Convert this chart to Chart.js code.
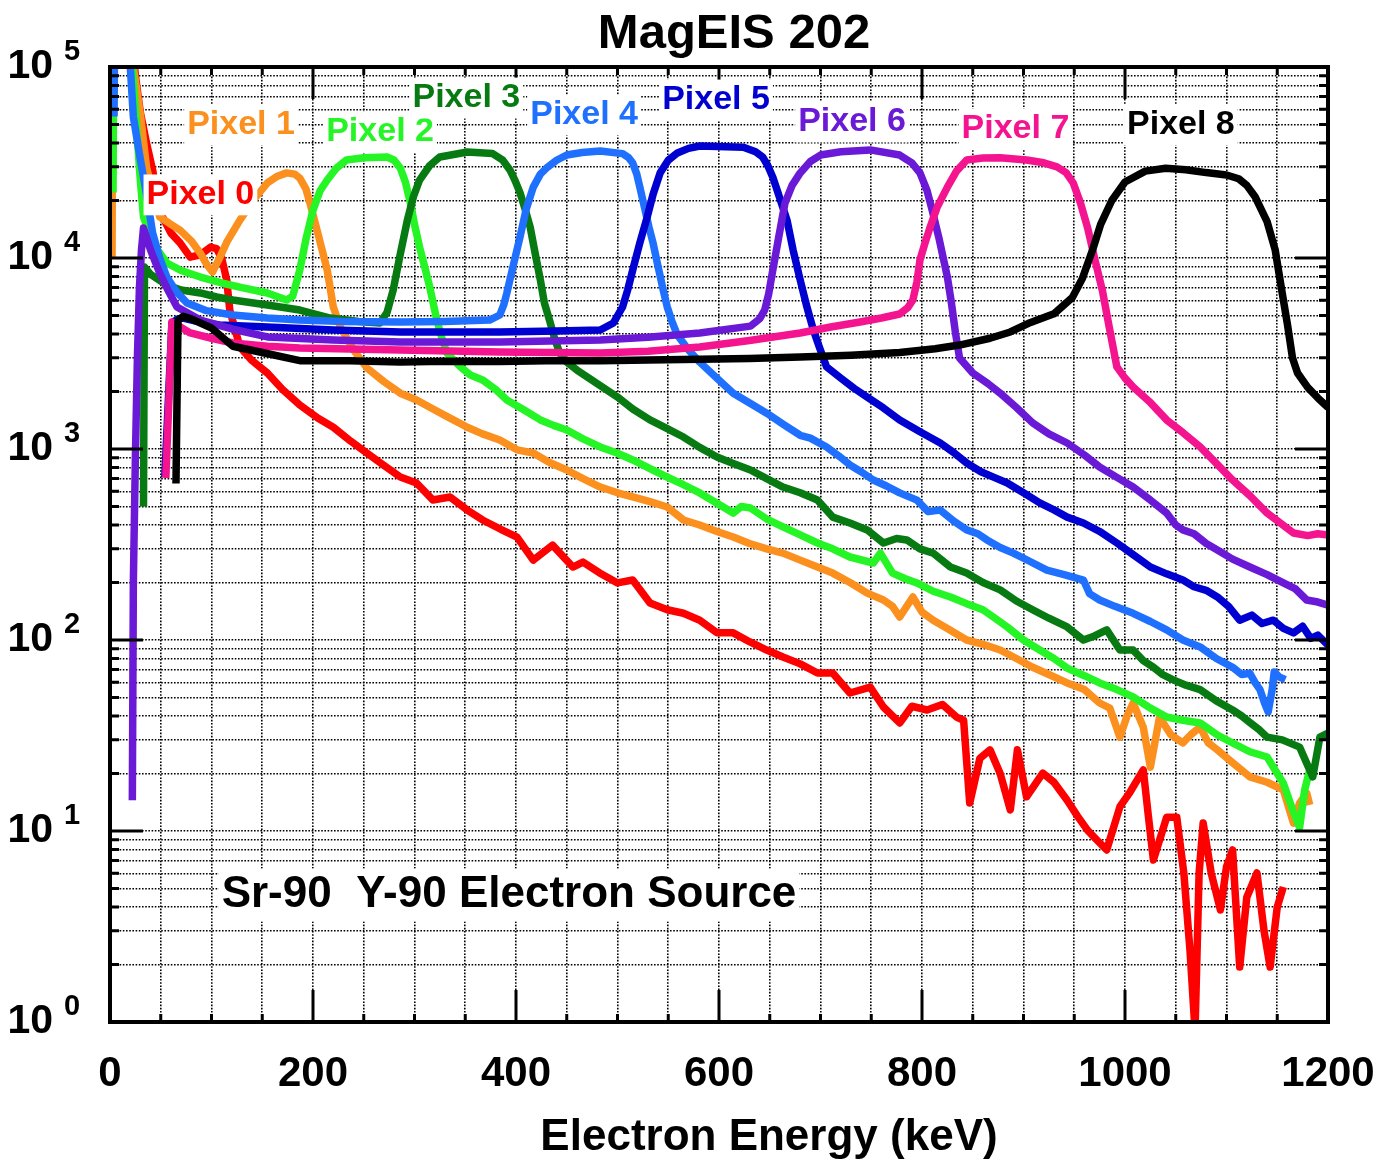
<!DOCTYPE html>
<html>
<head>
<meta charset="utf-8">
<script src="https://cdn.jsdelivr.net/npm/chart.js@4.4.1/dist/chart.umd.min.js"></script>
<style>
  body { margin: 0; background: #fff; }
</style>
</head>
<body>
<canvas id="spectra" width="1383" height="1160"></canvas>
<script>
// counts per pixel, [energy keV, counts]
var pixel0 = [[19,200000],[25,90000],[30,57400],[36,40000],[42,28900],[49,17500],[60,13500],[69,12000],[79,10100],[89,10400],[99,11400],[105,11200],[110,10000],[115,7670],[118,5340],[128,3420],[140,2900],[155,2500],[170,2050],[187,1700],[205,1450],[220,1300],[237,1100],[253,953],[270,820],[286,713],[302,664],[318,541],[335,561],[352,479],[367,425],[385,380],[401,346],[417,262],[436,314],[456,241],[466,256],[482,225],[500,199],[515,206],[532,156],[549,144],[565,138],[581,127],[598,109],[614,109],[630,98],[647,88.6],[663,81.5],[680,75],[697,67.2],[712,67.2],[729,52.8],[749,56.7],[762,44.6],[778,36.8],[790,45],[805,43],[820,46],[834,39.5],[841,38],[847,14],[857,24],[867,26.6],[877,20],[887,12.9],[894,26.6],[903,15.1],[919,20.1],[930,18],[943,14.5],[953,12],[963,10.1],[972,9],[982,7.96],[995,13.4],[1005,16],[1018,20.9],[1023,12],[1028,7.05],[1041,11.8],[1051,11.8],[1058,6],[1064,2.38],[1069,0.9],[1073,6],[1077,11],[1085,6],[1094,3.86],[1100,6.5],[1106,7.96],[1113,1.94],[1120,4.5],[1130,6.03],[1137,3],[1143,1.94],[1150,4],[1156,5.09]];

var pixel1 = [[2,10000],[3,300000],[21,300000],[23,100000],[30,56100],[36,29900],[42,22000],[49,16400],[60,15000],[69,14000],[80,12300],[89,10600],[95,9300],[101,8450],[108,10000],[115,12100],[128,15800],[141,20000],[155,24700],[165,26800],[174,27900],[182,27500],[187,26200],[193,23000],[197,19400],[204,14000],[209,11000],[214,8650],[220,5540],[227,4350],[240,3300],[253,2660],[270,2250],[286,1960],[302,1805],[320,1600],[335,1450],[352,1300],[367,1200],[384,1115],[401,990],[417,953],[433,850],[450,776],[466,700],[483,632],[500,590],[515,561],[532,530],[549,497],[565,425],[581,400],[598,370],[614,346],[630,320],[647,300],[663,285],[680,262],[697,241],[712,224],[729,200],[746,176],[762,162],[771,150],[778,132],[791,168],[800,140],[811,127],[825,115],[844,100],[860,95],[877,88.6],[893,80],[909,72],[925,66],[943,59.6],[960,55],[975,46.8],[985,44],[995,31],[1002,40],[1008,46.8],[1018,35],[1025,21.6],[1034,39.5],[1045,32],[1057,28.9],[1065,32],[1074,35],[1082,29],[1091,26.6],[1105,23],[1123,19.2],[1140,18],[1156,16.4],[1166,11],[1172,14],[1179,15.8],[1182,13.7]];

var pixel2 = [[3,22000],[4,300000],[21,300000],[22,100000],[26,50000],[30,25000],[33,16400],[40,12900],[46,11200],[56,9420],[70,8600],[89,7950],[110,7400],[130,7000],[155,6560],[174,6030],[180,6300],[187,8650],[193,12500],[200,17800],[207,22500],[214,25600],[223,29500],[233,32600],[250,33500],[273,33800],[280,32500],[286,29600],[291,25000],[296,19400],[300,15000],[305,11400],[310,9000],[315,7050],[322,4730],[327,3800],[332,3180],[345,2700],[355,2440],[367,2300],[380,2050],[391,1805],[408,1600],[424,1420],[437,1330],[450,1257],[466,1130],[483,1025],[500,950],[515,876],[532,790],[549,713],[565,650],[581,589],[598,520],[614,462],[622,500],[631,491],[647,430],[663,391],[680,355],[697,322],[712,300],[729,272],[752,253],[759,285],[771,224],[783,210],[795,199],[811,180],[828,168],[844,155],[860,144],[872,130],[884,117],[900,100],[916,88.6],[930,80],[943,71.3],[960,65],[975,59.6],[992,55],[1008,50.3],[1025,44],[1041,39.5],[1057,38],[1074,36.8],[1091,31.8],[1106,28.9],[1123,26],[1140,24.4],[1150,20],[1156,17.8],[1165,13],[1172,10.4],[1177,16.4],[1182,20.9]];

var pixel3 = [[33,500],[34,8970],[40,8200],[56,7220],[70,6800],[89,6560],[105,6250],[121,6030],[155,5680],[187,5340],[217,4850],[245,4650],[266,4570],[273,5200],[279,6800],[286,10500],[293,15800],[299,21000],[305,25600],[315,30500],[325,33800],[352,35900],[377,35200],[387,32500],[394,28900],[399,25500],[404,21900],[409,18000],[414,14500],[419,10500],[424,7670],[428,5800],[433,4730],[438,3800],[443,3180],[450,2850],[460,2590],[480,2200],[500,1870],[515,1620],[532,1420],[549,1280],[565,1155],[581,1020],[598,908],[614,840],[631,776],[647,700],[663,632],[680,590],[697,541],[712,440],[729,410],[746,377],[762,322],[775,340],[785,334],[798,300],[811,285],[828,241],[844,224],[860,200],[877,183],[893,160],[909,144],[925,130],[943,117],[959,100],[970,105],[982,113],[995,88.6],[1008,88.6],[1018,78],[1028,72],[1037,66],[1047,62],[1060,58],[1074,55],[1090,48],[1106,43],[1115,40],[1123,37],[1132,34],[1140,31],[1155,30],[1165,28.5],[1172,27.5],[1180,22],[1185,19.2],[1192,31],[1200,32.5]];

var pixel4 = [[4,55000],[5,300000],[18,300000],[20,100000],[23,54700],[30,32600],[37,20000],[42,13500],[49,10000],[56,7950],[66,6600],[76,5810],[95,5300],[121,5030],[155,4850],[187,4730],[230,4650],[286,4620],[330,4650],[374,4730],[384,5030],[388,5700],[391,6560],[397,9000],[404,12900],[410,18000],[417,23500],[424,27500],[431,29900],[440,32500],[450,34600],[465,35700],[483,36300],[505,35200],[511,33500],[515,31400],[519,27500],[522,23500],[527,18000],[531,14500],[535,12000],[540,9000],[545,6800],[549,5540],[554,4600],[559,3950],[570,3300],[581,2850],[598,2350],[614,1960],[631,1730],[647,1540],[663,1350],[680,1180],[690,1140],[706,1025],[718,920],[729,825],[740,760],[752,688],[765,640],[778,589],[795,540],[806,470],[818,479],[831,420],[844,377],[855,360],[864,334],[877,305],[890,285],[905,260],[923,232],[940,220],[959,206],[965,175],[975,162],[990,150],[1008,138],[1025,125],[1041,113],[1057,100],[1074,92],[1090,80],[1106,72],[1115,66],[1123,67],[1128,60],[1133,55],[1138,46],[1141,42],[1145,55],[1147,68],[1152,64],[1158,62]];

var pixel5 = [[54,713],[61,4570],[67,4800],[72,4850],[90,4600],[108,4460],[155,4350],[220,4200],[286,4100],[384,4100],[440,4150],[483,4200],[496,4570],[505,5540],[510,6800],[515,8650],[522,12000],[529,16200],[535,21500],[542,27900],[550,32500],[559,35500],[570,37500],[581,38600],[624,38000],[636,36000],[643,33800],[648,30500],[653,26500],[660,20500],[667,15800],[673,11000],[680,7670],[686,5700],[693,4200],[699,3400],[706,2690],[720,2350],[733,2080],[746,1870],[762,1640],[778,1420],[798,1230],[818,1075],[831,960],[844,845],[858,760],[871,710],[884,664],[900,590],[916,522],[930,480],[943,440],[959,410],[975,370],[992,322],[1008,280],[1025,241],[1041,222],[1057,206],[1068,190],[1080,182],[1091,168],[1102,150],[1113,127],[1125,135],[1135,122],[1146,127],[1156,115],[1166,109],[1175,118],[1183,102],[1190,106],[1200,94]];

var pixel6 = [[22,14.5],[23,200],[25,900],[27,3000],[29,7000],[31,11000],[33,14350],[40,11000],[49,8340],[57,6800],[66,5540],[89,4730],[120,4250],[155,3860],[220,3720],[286,3630],[384,3630],[483,3720],[530,3850],[581,4050],[631,4400],[640,4800],[645,5340],[649,6500],[653,8650],[659,13000],[665,19400],[672,24000],[680,27900],[690,32000],[700,34600],[720,36000],[749,36800],[778,34600],[790,31500],[798,27900],[805,22500],[810,17800],[817,12500],[825,7950],[829,5800],[833,4050],[837,2995],[850,2500],[865,2200],[877,1960],[893,1650],[909,1370],[925,1200],[943,1075],[960,930],[975,805],[992,710],[1008,632],[1025,540],[1041,462],[1050,400],[1057,377],[1068,360],[1080,320],[1091,296],[1106,265],[1123,241],[1140,220],[1156,199],[1168,185],[1179,162],[1190,158],[1200,152]];

var pixel7 = [[55,705],[61,4620],[68,4400],[79,4050],[100,3800],[121,3590],[155,3450],[187,3380],[286,3300],[384,3220],[483,3180],[530,3250],[581,3420],[630,3700],[680,4050],[710,4350],[739,4620],[760,4850],[778,5090],[786,5500],[791,6030],[795,7500],[798,9770],[803,12000],[808,14500],[815,18500],[825,23500],[834,28500],[844,32600],[860,33400],[877,33500],[903,32600],[920,31500],[933,30000],[942,28000],[949,24700],[956,19500],[963,14500],[970,10000],[978,6640],[985,4200],[992,2690],[1000,2350],[1008,2110],[1025,1750],[1041,1420],[1057,1220],[1074,1025],[1090,840],[1106,688],[1123,570],[1140,462],[1153,410],[1166,363],[1180,352],[1190,360],[1200,355]];

var pixel8 = [[65,660],[67,4700],[72,4950],[80,4800],[100,4300],[121,3450],[150,3200],[187,2900],[236,2900],[286,2850],[330,2880],[384,2870],[430,2900],[483,2900],[530,2920],[581,2950],[630,2980],[680,3030],[730,3100],[778,3200],[813,3350],[837,3500],[867,3800],[887,4100],[907,4600],[930,5100],[948,6200],[958,7800],[968,11000],[976,15000],[987,20000],[1000,25000],[1020,28500],[1040,29500],[1060,29000],[1080,28000],[1100,27200],[1112,26000],[1120,24000],[1128,21000],[1140,15500],[1148,11000],[1154,7000],[1160,4500],[1165,3000],[1170,2500],[1180,2100],[1190,1850],[1200,1650]];

var pixelNames = ['Pixel 0', 'Pixel 1', 'Pixel 2', 'Pixel 3', 'Pixel 4', 'Pixel 5', 'Pixel 6', 'Pixel 7', 'Pixel 8'];
var pixelColors = ['#ff0000', '#fb901e', '#25f525', '#087a12', '#2070ff', '#0000d0', '#6a1ad6', '#f5148f', '#000000'];
var xTickLabels = [0, 200, 400, 600, 800, 1000, 1200];
var yDecades = [1, 10, 100, 1000, 10000, 100000];

// where the name of each pixel is written, in [keV, counts]
var nameSpots = [[36, 21400], [76, 49700], [213, 45700], [298, 68800], [414, 56100], [544, 67200], [678, 51500], [839, 47400], [1002, 49700]];
var sourceNote = 'Sr-90  Y-90 Electron Source';
var sourceSpot = [110, 4.62];

var allPixels = [pixel0, pixel1, pixel2, pixel3, pixel4, pixel5, pixel6, pixel7, pixel8];
var fontName = '"Liberation Sans", Arial, Helvetica, sans-serif';

Chart.defaults.font.family = fontName;
Chart.defaults.color = '#000';

function isDecade(v) {
    var e = Math.round(Math.log10(v));
    return Math.abs(v - Math.pow(10, e)) < 1e-6 * v;
}

var datasets = allPixels.map(function (pts, i) {
    return {
        label: pixelNames[i],
        data: pts.map(function (p) { return {x: p[0], y: p[1]}; }),
        borderColor: pixelColors[i],
        borderWidth: 7.5,
        borderJoinStyle: 'round',
        pointRadius: 0,
        tension: 0,
        clip: 0,
        order: 8 - i
    };
});

var frameAndNotes = {
    id: 'frameAndNotes',
    afterDatasetsDraw: function (chart) {
        var ctx = chart.ctx, a = chart.chartArea;
        var xs = chart.scales.x, ys = chart.scales.y;
        ctx.save();
        ctx.strokeStyle = '#000';
        ctx.lineWidth = 3;
        ctx.beginPath();
        xs.ticks.forEach(function (t) {
            var px = xs.getPixelForValue(t.value);
            var len = t.value % 200 === 0 ? 32 : 8;
            ctx.moveTo(px, a.bottom); ctx.lineTo(px, a.bottom - len);
            ctx.moveTo(px, a.top); ctx.lineTo(px, a.top + len);
        });
        ys.ticks.forEach(function (t) {
            var py = ys.getPixelForValue(t.value);
            var len = isDecade(t.value) ? 33 : 9;
            ctx.moveTo(a.left, py); ctx.lineTo(a.left + len, py);
            ctx.moveTo(a.right, py); ctx.lineTo(a.right - len, py);
        });
        ctx.stroke();
        ctx.lineWidth = 4;
        ctx.strokeRect(a.left, a.top, a.right - a.left, a.bottom - a.top);

        // exponents of the decade labels on the y axis
        ctx.fillStyle = '#000';
        ctx.font = 'bold 29px ' + fontName;
        ctx.textAlign = 'left';
        ctx.textBaseline = 'alphabetic';
        ys.ticks.forEach(function (t) {
            if (!isDecade(t.value)) return;
            var py = ys.getPixelForValue(t.value);
            ctx.fillText(String(Math.round(Math.log10(t.value))), a.left - 46, py - 7);
        });

        function note(text, e, v, color, size) {
            var px = xs.getPixelForValue(e), py = ys.getPixelForValue(v);
            ctx.font = 'bold ' + size + 'px ' + fontName;
            var w = ctx.measureText(text).width;
            ctx.fillStyle = '#fff';
            ctx.fillRect(px - 3, py - size * 0.6, w + 6, size * 1.2);
            ctx.fillStyle = color;
            ctx.textAlign = 'left';
            ctx.textBaseline = 'middle';
            ctx.fillText(text, px, py);
        }
        nameSpots.forEach(function (s, i) {
            note(pixelNames[i], s[0], s[1], pixelColors[i], 34);
        });
        note(sourceNote, sourceSpot[0], sourceSpot[1], '#000', 44);

        var mid = (a.left + a.right) / 2;
        ctx.fillStyle = '#000';
        ctx.textAlign = 'center';
        ctx.textBaseline = 'alphabetic';
        ctx.font = 'bold 49px ' + fontName;
        ctx.fillText('MagEIS 202', mid + 15, 48);
        ctx.font = 'bold 44px ' + fontName;
        ctx.fillText('Electron Energy (keV)', mid + 50, 1150);
        ctx.restore();
    }
};

new Chart(document.getElementById('spectra'), {
    type: 'line',
    data: {datasets: datasets},
    options: {
        responsive: false,
        animation: false,
        layout: {padding: {top: 67, right: 55, left: 0, bottom: 0}},
        plugins: {legend: {display: false}, tooltip: {enabled: false}, title: {display: false}},
        scales: {
            x: {
                type: 'linear',
                min: 0,
                max: 1200,
                ticks: {
                    stepSize: 50,
                    autoSkip: false,
                    maxRotation: 0,
                    padding: 27,
                    font: {size: 42, weight: 'bold'},
                    callback: function (v) { return xTickLabels.indexOf(v) >= 0 ? String(v) : ''; }
                },
                grid: {color: '#000', lineWidth: 1.6, drawTicks: false},
                border: {display: false, dash: [1.6, 1.6]},
                afterFit: function (s) { s.height = 138; s.paddingLeft = 0; s.paddingRight = 0; }
            },
            y: {
                type: 'logarithmic',
                min: 1,
                max: 100000,
                afterBuildTicks: function (s) {
                    var t = [];
                    yDecades.forEach(function (d) {
                        for (var k = 1; k <= 9; k++) {
                            if (d * k <= 100000) t.push({value: d * k});
                        }
                    });
                    s.ticks = t;
                },
                ticks: {
                    autoSkip: false,
                    padding: 57,
                    font: {size: 41, weight: 'bold'},
                    callback: function (v) { return isDecade(v) ? '10' : ''; }
                },
                grid: {color: '#000', lineWidth: 1.6, drawTicks: false},
                border: {display: false, dash: [1.6, 1.6]},
                afterFit: function (s) { s.width = 110; s.paddingTop = 0; s.paddingBottom = 0; }
            }
        }
    },
    plugins: [frameAndNotes]
});
</script>
</body>
</html>
